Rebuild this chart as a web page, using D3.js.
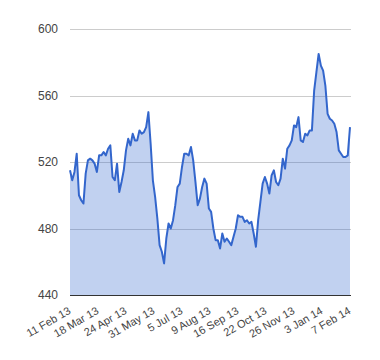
<!DOCTYPE html>
<html>
<head>
<meta charset="utf-8">
<script src="https://cdn.jsdelivr.net/npm/d3@7"></script>
<style>
  html, body { margin: 0; padding: 0; background: #fff; }
  svg { display: block; }
  text { font-family: Arial, "Liberation Sans", sans-serif; }
</style>
</head>
<body>
<svg id="chart" width="380" height="360"></svg>
<script>
// Tick labels on the category axis (one every 25 trading days)
const tickLabels = ["11 Feb 13", "18 Mar 13", "24 Apr 13", "31 May 13", "5 Jul 13",
  "9 Aug 13", "16 Sep 13", "22 Oct 13", "26 Nov 13", "3 Jan 14", "7 Feb 14"];
const tickEvery = 25;      // trading days between labels
const sampleStep = 2;      // trading days between samples below
// Closing values, sampled every 2 trading days
const values = [
  515, 509, 514, 525, 500, 497, 495, 513, 521, 522,
  521, 519, 514, 524, 524, 526, 524, 528, 530, 511,
  509, 519, 502, 508, 515, 527, 534, 530, 537, 533,
  533, 539, 537, 538, 541, 550, 531, 509, 499, 486,
  470, 466, 459, 474, 483, 480, 485, 494, 505, 507,
  517, 525, 525, 524, 529, 521, 508, 494, 498, 505,
  510, 507, 492, 490, 480, 473, 473, 468, 477, 472,
  474, 472, 470, 475, 480, 488, 487, 487, 484, 485,
  483, 484, 477, 469, 485, 496, 507, 511, 507, 501,
  512, 515, 508, 506, 510, 522, 516, 528, 530, 533,
  542, 541, 547, 533, 532, 537, 536, 539, 539, 563,
  574, 585, 578, 575, 566, 549, 546, 545, 543, 538,
  527, 525, 523, 523, 524, 541
];
const yTicks = [440, 480, 520, 560, 600];

const svg = d3.select("#chart");
const mLeft = 70, mRight = 350, mTop = 29, mBottom = 295;

const x = d3.scaleLinear()
  .domain([0, (tickLabels.length - 1) * tickEvery])
  .range([mLeft, mRight]);
const y = d3.scaleLinear().domain([440, 600]).range([mBottom, mTop]);

// gridlines
svg.append("g")
  .selectAll("line")
  .data(yTicks.filter(d => d !== 440))
  .join("line")
  .attr("x1", mLeft).attr("x2", mRight + 1)
  .attr("y1", d => Math.round(y(d)) + 0.5).attr("y2", d => Math.round(y(d)) + 0.5)
  .attr("stroke", "#cccccc").attr("stroke-width", 1);

// y axis labels
const yAxis = svg.append("g")
  .attr("transform", `translate(${mLeft - 12},0)`)
  .call(d3.axisLeft(y).tickValues(yTicks).tickSize(0).tickPadding(0).tickFormat(d3.format("d")));
yAxis.select(".domain").remove();
yAxis.selectAll("text")
  .attr("font-size", 12)
  .attr("fill", "#444")
  .attr("font-family", "Arial, 'Liberation Sans', sans-serif");

// area + line
const pts = values.map((v, i) => ({ i: i * sampleStep, v }));
const area = d3.area().x(d => x(d.i)).y0(y(440)).y1(d => y(d.v));
const line = d3.line().x(d => x(d.i)).y(d => y(d.v));

svg.append("path").datum(pts)
  .attr("d", area)
  .attr("fill", "#3366cc").attr("fill-opacity", 0.3);

// baseline
svg.append("line")
  .attr("x1", mLeft).attr("x2", mRight + 1)
  .attr("y1", mBottom + 0.5).attr("y2", mBottom + 0.5)
  .attr("stroke", "#333").attr("stroke-width", 1);

svg.append("path").datum(pts)
  .attr("d", line)
  .attr("fill", "none")
  .attr("stroke", "#3366cc").attr("stroke-width", 2)
  .attr("stroke-linejoin", "round");

// x axis labels (rotated)
const xAxis = svg.append("g")
  .attr("transform", `translate(0,${mBottom})`)
  .call(d3.axisBottom(x)
    .tickValues(tickLabels.map((_, k) => k * tickEvery))
    .tickFormat((d, k) => tickLabels[k])
    .tickSize(0).tickPadding(0));
xAxis.select(".domain").remove();
xAxis.selectAll("text")
  .attr("font-size", 11)
  .attr("fill", "#444")
  .attr("font-family", "Arial, 'Liberation Sans', sans-serif")
  .attr("text-anchor", "end")
  .attr("dy", null)
  .attr("y", null)
  .attr("transform", "translate(1,18) rotate(-30)");
</script>
</body>
</html>
